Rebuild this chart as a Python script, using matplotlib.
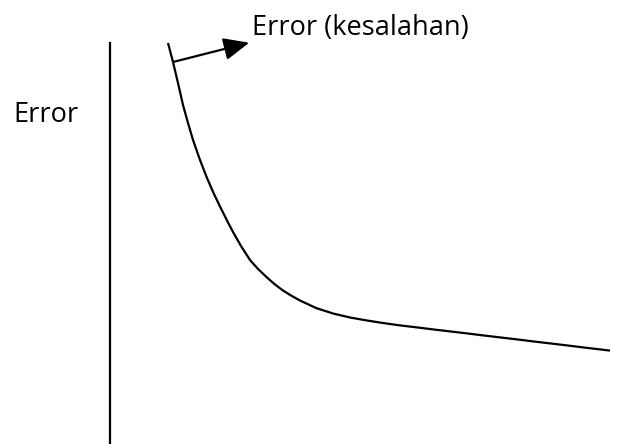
import numpy as np
import matplotlib.pyplot as plt

# titik-titik kurva error (satuan piksel)
epoch = [168, 173, 178, 183, 188, 193, 200, 207, 214, 220, 227, 233, 241, 250, 258,
         267, 275, 283, 291, 300, 316, 333, 350, 367, 383, 400, 417, 433, 450, 467,
         483, 500, 517, 533, 550, 567, 583, 600, 610]
error = [401, 382, 361, 339, 321, 304, 284, 266, 250, 237.5, 223.5, 212, 198, 184, 175,
         166.5, 159.5, 153.5, 148.5, 143.5, 136, 130.5, 126.5, 123.5, 121, 118.6, 116.6,
         114.6, 112.6, 110.6, 108.6, 106.6, 104.6, 102.6, 100.6, 98.6, 96.6, 94.6, 93.4]

label_curve = "Error (kesalahan)"
label_axis = "Error"

plt.rcParams['font.family'] = ['Open Sans', 'DejaVu Sans']

fig = plt.figure(figsize=(6.39, 4.44), dpi=100)
ax = fig.add_axes([110 / 639, 0, 529 / 639, 401 / 444])
ax.set_xlim(110, 639)
ax.set_ylim(0, 401)

ax.plot(epoch, error, color='black', lw=1.6, clip_on=False,
        solid_capstyle='butt', solid_joinstyle='round')

for s in ['top', 'right', 'bottom']:
    ax.spines[s].set_visible(False)
ax.spines['left'].set_linewidth(1.6)
ax.set_xticks([])
ax.set_yticks([])

# panah ke label
ax.annotate(label_curve, xy=(173, 382), xytext=(252, 409),
            textcoords='data', annotation_clip=False,
            fontsize=19.5, va='baseline', ha='left',
            arrowprops=dict(arrowstyle='<|-,head_length=0.8,head_width=0.35',
                            color='black', lw=1.6, shrinkA=0, shrinkB=0,
                            relpos=(0, 0)))

fig.text(13 / 639, 1 - 122 / 444, label_axis, fontsize=19.5, ha='left', va='baseline')

fig.savefig('out.png', dpi=100)
